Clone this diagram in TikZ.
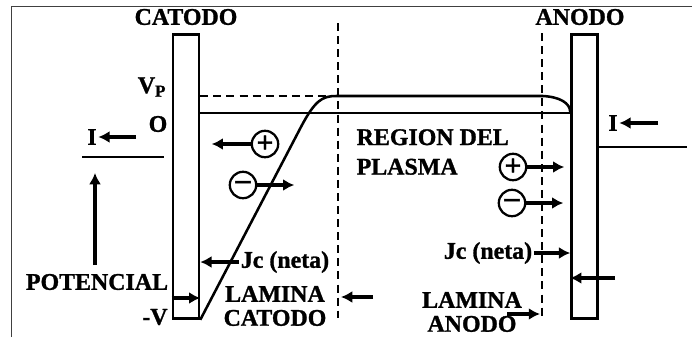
\documentclass[tikz,border=0pt]{standalone}
\usepackage{fontspec}
\setmainfont{Liberation Serif}[BoldFeatures={FakeBold=1.2}]
\usetikzlibrary{positioning,arrows.meta,calc}
\newcommand{\lblfont}{\fontsize{17}{21}\selectfont\bfseries}

\begin{document}
\begin{tikzpicture}[x=0.025cm, y=-0.025cm,
  electrode/.style={draw, line width=1.8pt, minimum width=0.65cm, minimum height=7.1cm, inner sep=0pt},
  lbl/.style={font=\lblfont, inner sep=1pt},
  line/.style={line width=1.8pt},
  sheath/.style={line width=1.8pt, dash pattern=on 5.7pt off 3.6pt},
  flow/.style={-{Latex[length=8pt,width=8.5pt]}, line width=2.4pt},
  ion/.style={circle, draw, line width=1.6pt, minimum size=0.66cm, inner sep=0pt,
    font=\fontsize{21}{21}\selectfont\bfseries}]
  \useasboundingbox (0,0) rectangle (692,337);
  \draw[line width=0.7pt, black!75] (11,337) -- (11,6) -- (692,6);
  % electrodes
  \node[electrode] (cat) at (186,176.5) {};
  \node[electrode] (ano) at (584.5,176.5) {};
  \node[lbl] (catlbl) at (186,17) {CATODO};
  \node[lbl] (anolbl) at (580,17) {ANODO};
  % potential levels
  \node[lbl] (vp) at (152,87) {V\textsubscript{\large P}};
  \node[lbl] (zero) at (158,124) {O};
  \node[lbl] (negv) at (155,317) {-V};
  \draw[sheath] (cat.east |- 0,96) -- (336,96);
  \draw[line] (cat.east |- 0,113) -- (ano.west |- 0,113);
  \draw[line] (cat.south east) -- (302,125) .. controls (315,101) and (322,96) .. (336,96)
    -- (543,96) .. controls (560,97) and (570,103) .. (ano.west |- 0,112);
  % sheath edges
  \draw[sheath] (338,23) -- (338,318);
  \draw[sheath] (542,33) -- (542,318);
  % external circuit
  \node[lbl] (icat) at (92,137) {I};
  \coordinate (icatfrom) at (136,137);
  \draw[flow] (icatfrom) -- (icat.east);
  \draw[line] (82,157) -- (164,157);
  \node[lbl] (iano) at (613,123) {I};
  \coordinate (ianofrom) at (658,123);
  \draw[flow] (ianofrom) -- (iano.east);
  \draw[line] (ano.east |- 0,147) -- (687,147);
  \node[lbl] (pot) at (97,282) {POTENCIAL};
  \coordinate (pottop) at (95,173);
  \draw[flow] (95,265) -- (pottop);
  \draw[flow] (cat.west |- 0,298) -- (cat.east |- 0,298);
  % charges
  \node[ion] (pc) at (265,144) {+};
  \draw[flow] (pc.west) -- ++(-39,0);
  \node[ion] (nc) at (243,185) {--};
  \draw[flow] (nc.east) -- ++(37,0);
  \node[ion] (pa) at (513,167) {+};
  \draw[flow] (pa.east) -- ++(37,0);
  \node[ion] (na) at (512,203) {--};
  \draw[flow] (na.east) -- ++(37,0);
  % currents
  \node[lbl] (jcc) at (285,262) {Jc (neta)};
  \draw[flow] (jcc.west) -- (jcc.west -| cat.east);
  \node[lbl] (jca) at (488,253) {Jc (neta)};
  \draw[flow] (jca.east) -- (jca.east -| ano.west);
  \coordinate (anoin) at (615,278);
  \draw[flow] (anoin) -- (anoin -| ano.west);
  % regions
  \node[lbl, align=left, anchor=west] (plasma) at (355,152) {REGION DEL\\PLASMA};
  \node[lbl, align=center] (lamc) at (275,306) {LAMINA\\[-4pt]CATODO};
  \coordinate (lamcfrom) at (373,297);
  \draw[flow] (lamcfrom) -- (lamcfrom -| 341,0);
  \node[lbl, align=center] (lama) at (472,312) {LAMINA\\[-4pt]ANODO};
  \coordinate (lamafrom) at (507,314);
  \draw[flow] (lamafrom) -- (lamafrom -| 540,0);
\end{tikzpicture}
\end{document}
